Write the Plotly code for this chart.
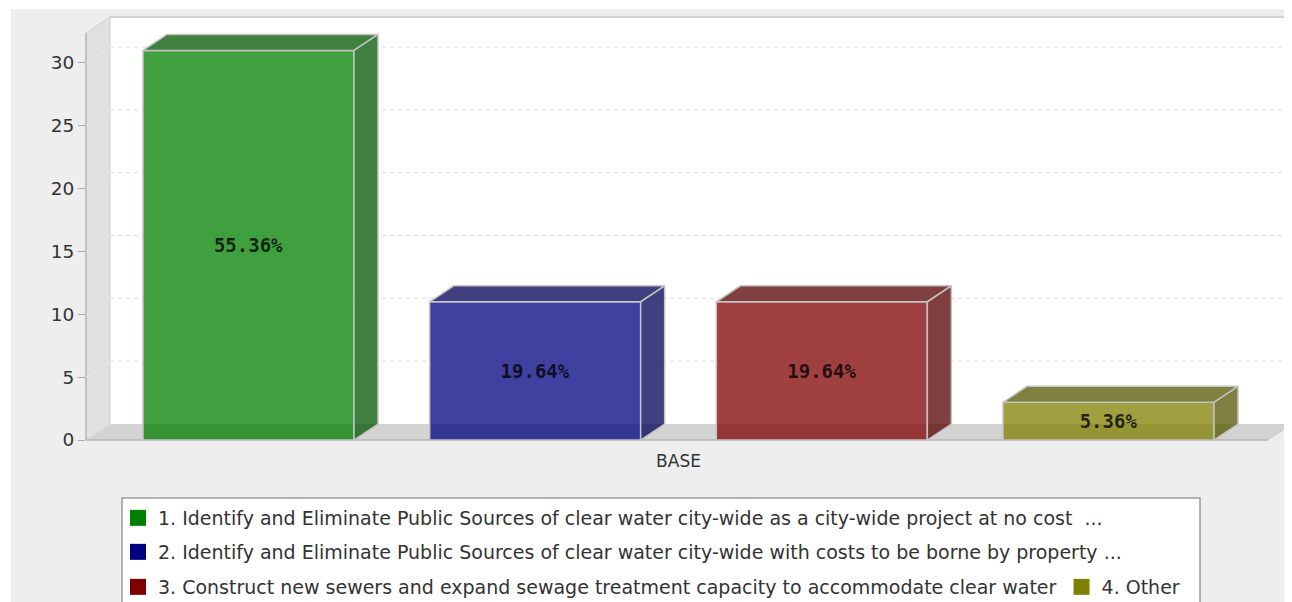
import plotly.graph_objects as go

# ---------------- data ----------------
categories = ["BASE"]
series_names = [
    "1. Identify and Eliminate Public Sources of clear water city-wide as a city-wide project at no cost  ...",
    "2. Identify and Eliminate Public Sources of clear water city-wide with costs to be borne by property ...",
    "3. Construct new sewers and expand sewage treatment capacity to accommodate clear water",
    "4. Other",
]
counts = [31, 11, 11, 3]
percent_labels = ["55.36%", "19.64%", "19.64%", "5.36%"]
y_tick_values = [0, 5, 10, 15, 20, 25, 30]

face_colors = ["rgba(0,128,0,0.75)", "rgba(0,0,128,0.75)", "rgba(128,0,0,0.75)", "rgba(128,128,0,0.75)"]
shade_colors = ["rgba(0,85,0,0.75)", "rgba(0,0,85,0.75)", "rgba(85,0,0,0.75)", "rgba(85,85,0,0.75)"]
legend_colors = ["#008000", "#000080", "#800000", "#808000"]

# ---------------- geometry (pixels of the 1292x602 window) ----------------
OFF = 8                                       # page body margin
WIN_W, WIN_H = 1292, 602
FIG_W, FIG_H = WIN_W - OFF, WIN_H - OFF
PL, PR, PT, PB = 86, 1292, 17, 440            # plot area in window pixels
PW, PH = PR - PL, PB - PT
UNIT_PX = 12.567                              # pixels per y unit
BAR_PITCH = 286.67                            # pixels between bar centres
FIRST_CENTER = 248.5
BAR_W_PX = 211
DEPTH_X, DEPTH_Y = 24, 16                     # 3D depth offset in pixels

TXT = "#333333"
UI_FONT = "DejaVu Sans"


def xd(px):
    return (px - FIRST_CENTER) / BAR_PITCH


def xp(px):
    return (px - PL) / PW


def yp(py):
    return (PB - py) / PH


def xc(px):
    return (px - OFF) / FIG_W


def yc(py):
    return 1 - (py - OFF) / FIG_H


X_RANGE = [xd(PL), xd(PR)]
Y_RANGE = [0, (PB - PT) / UNIT_PX]
DX = DEPTH_X / BAR_PITCH
DY = DEPTH_Y / UNIT_PX
BW = BAR_W_PX / BAR_PITCH
OUTLINE = "#c4c4c4"

fig = go.Figure()

positions = list(range(len(counts)))

# front faces
for i, (name, v) in enumerate(zip(series_names, counts)):
    fig.add_trace(go.Bar(
        x=[positions[i]], y=[v], width=BW, name=name,
        marker=dict(color=face_colors[i], line=dict(color=OUTLINE, width=1.5)),
        text=[percent_labels[i]], textposition="inside", insidetextanchor="middle",
        textfont=dict(family="DejaVu Sans Mono", size=19, color="rgba(0,0,0,0.78)", weight="bold"),
        showlegend=False, hoverinfo="skip",
    ))

# top and side faces
for i, v in enumerate(counts):
    x0 = positions[i] - BW / 2
    x1 = positions[i] + BW / 2
    fig.add_trace(go.Scatter(
        x=[x0, x0 + DX, x1 + DX, x1, x0], y=[v, v + DY, v + DY, v, v],
        mode="lines", fill="toself", fillcolor=shade_colors[i],
        line=dict(color=OUTLINE, width=1.5), showlegend=False, hoverinfo="skip",
    ))
    fig.add_trace(go.Scatter(
        x=[x1, x1, x1 + DX, x1 + DX, x1], y=[0, v, v + DY, DY, 0],
        mode="lines", fill="toself", fillcolor=shade_colors[i],
        line=dict(color=OUTLINE, width=1.5), showlegend=False, hoverinfo="skip",
    ))

# legend entries
legend_ids = ["legend", "legend2", "legend3", "legend3"]
for i, name in enumerate(series_names):
    fig.add_trace(go.Scatter(
        x=[None], y=[None], mode="markers", name=name, legend=legend_ids[i],
        marker=dict(symbol="square", size=16, color=legend_colors[i]),
    ))

# ---------------- decorations ----------------
shapes = []


def poly(points, fill, layer="below"):
    path = "M " + " L ".join(f"{xp(a)},{yp(b)}" for a, b in points) + " Z"
    return dict(type="path", xref="paper", yref="paper", path=path,
                fillcolor=fill, line=dict(width=0), layer=layer)


def pline(p0, p1, color, width=1, dash=None):
    d = dict(type="line", xref="paper", yref="paper",
             x0=xp(p0[0]), y0=yp(p0[1]), x1=xp(p1[0]), y1=yp(p1[1]),
             line=dict(color=color, width=width), layer="below")
    if dash:
        d["line"]["dash"] = dash
    return d


shapes.append(poly([(0, 0), (11, 0), (11, 602), (0, 602)], "white"))
shapes.append(poly([(0, 0), (1292, 0), (1292, 9), (0, 9)], "white"))
# back wall
shapes.append(poly([(PL + DEPTH_X, PT), (PR, PT), (PR, PB - DEPTH_Y), (PL + DEPTH_X, PB - DEPTH_Y)], "white"))
# left wall
shapes.append(poly([(PL, PT + DEPTH_Y), (PL + DEPTH_X, PT), (PL + DEPTH_X, PB - DEPTH_Y), (PL, PB)], "#e0e0e0"))
# floor
shapes.append(poly([(PL, PB), (PL + DEPTH_X, PB - DEPTH_Y), (PR, PB - DEPTH_Y), (PR - DEPTH_X, PB)], "#d3d3d3"))
# edges
shapes.append(pline((PL + DEPTH_X, PT), (PR, PT), "#d2d2d2", 2))
shapes.append(pline((PL + DEPTH_X, PT), (PL + DEPTH_X, PB - DEPTH_Y), "#cfcfcf", 1))
shapes.append(pline((PL, PT + DEPTH_Y), (PL + DEPTH_X, PT), "#cfcfcf", 1))
shapes.append(pline((PL, PT + DEPTH_Y), (PL, PB), "#b4b4b4", 1.5))
shapes.append(pline((PL, PB), (PR - DEPTH_X, PB), "#b4b4b4", 1.5))
shapes.append(pline((PR - DEPTH_X, PB), (PR, PB - DEPTH_Y), "#c8c8c8", 1))

# gridlines on the back wall (data coordinates)
for v in y_tick_values[1:]:
    shapes.append(dict(type="line", xref="x", yref="y",
                       x0=xd(PL + DEPTH_X), x1=xd(PR), y0=v + DY, y1=v + DY,
                       line=dict(color="#dcdcdc", width=1, dash="4px,4px"), layer="below"))
    shapes.append(dict(type="line", xref="x", yref="y",
                       x0=xd(PL), x1=xd(PL + DEPTH_X), y0=v, y1=v + DY,
                       line=dict(color="#e9e9e9", width=1), layer="below"))

# legend box
shapes.append(poly([(122, 498), (1200, 498), (1200, 640), (122, 640)], "white"))
shapes.append(dict(type="rect", xref="paper", yref="paper",
                   x0=xp(122), x1=xp(1200), y0=yp(498), y1=yp(640),
                   line=dict(color="#9a9a9a", width=1.5), fillcolor="rgba(0,0,0,0)", layer="below"))

legend_common = dict(orientation="h", bgcolor="rgba(0,0,0,0)", borderwidth=0,
                     font=dict(family=UI_FONT, size=19, color=TXT),
                     xref="container", yref="container",
                     xanchor="left", yanchor="middle", x=xc(118))

fig.update_layout(
    width=FIG_W, height=FIG_H,
    margin=dict(l=PL - OFF, r=0, t=PT - OFF, b=WIN_H - PB, pad=0, autoexpand=False),
    paper_bgcolor="#eeeeee", plot_bgcolor="rgba(0,0,0,0)",
    barmode="overlay",
    shapes=shapes,
    xaxis=dict(range=X_RANGE, tickvals=[1.5], ticktext=categories, showgrid=False,
               zeroline=False, showline=False, ticks="outside", ticklen=6,
               tickcolor="rgba(0,0,0,0)",
               tickfont=dict(family=UI_FONT, size=17, color=TXT)),
    yaxis=dict(range=Y_RANGE, tickvals=y_tick_values, showgrid=False, zeroline=False,
               showline=False, ticks="outside", ticklen=7, tickcolor="#a8a8a8",
               tickfont=dict(family=UI_FONT, size=18.5, color=TXT)),
    legend=dict(**legend_common, y=yc(518)),
    legend2=dict(**legend_common, y=yc(552)),
    legend3=dict(**legend_common, y=yc(587)),
    font=dict(family=UI_FONT),
)

fig.write_html("out.html")
